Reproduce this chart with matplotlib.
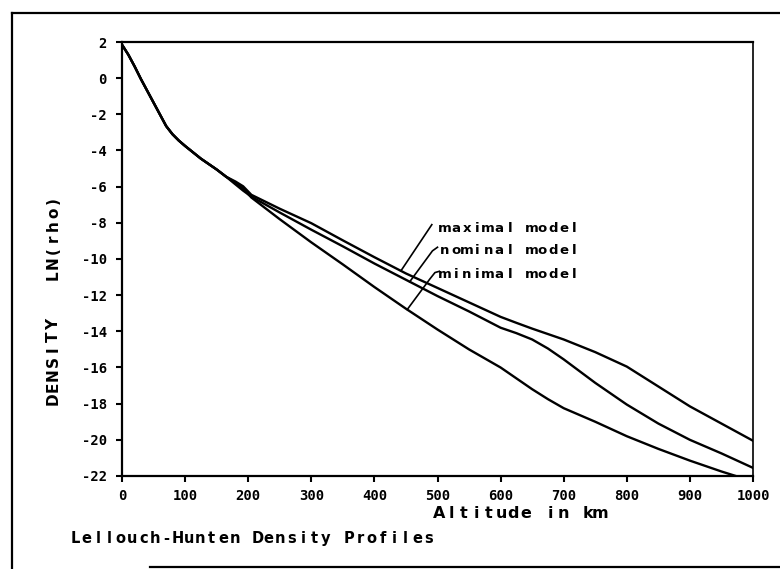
import matplotlib
matplotlib.use("Agg")
import matplotlib.pyplot as plt
from matplotlib.lines import Line2D
import numpy as np

plt.rcParams['axes.unicode_minus'] = False

W, H = 780, 569

# Lellouch-Hunten density profiles, ln(rho) against altitude (km)
alt_km = [0, 10, 20, 30, 40, 50, 60, 70, 80, 90, 100, 125, 150, 165,
          180, 192, 205, 250, 300, 350, 400, 450, 500, 550, 600, 625, 650,
          675, 700, 750, 800, 850, 900, 950, 1000]

maximal = [1.85, 1.3, 0.65, -0.05, -0.7, -1.35, -2.0, -2.65, -3.1, -3.45, -3.75, -4.45, -5.05, -5.45,
           -5.72, -5.98, -6.45, -7.22, -8.02, -8.97, -9.9, -10.8, -11.6, -12.4, -13.2, -13.53, -13.85,
           -14.15, -14.45, -15.15, -15.95, -17.05, -18.15, -19.1, -20.05]

nominal = [1.85, 1.3, 0.65, -0.05, -0.7, -1.35, -2.0, -2.65, -3.1, -3.45, -3.75, -4.45, -5.05, -5.45,
           -5.88, -6.22, -6.55, -7.43, -8.38, -9.3, -10.25, -11.15, -12.05, -12.9, -13.8, -14.1, -14.45,
           -14.95, -15.55, -16.85, -18.05, -19.1, -20.0, -20.75, -21.55]

minimal = [1.85, 1.3, 0.65, -0.05, -0.7, -1.35, -2.0, -2.65, -3.1, -3.45, -3.75, -4.45, -5.05, -5.45,
           -5.8, -6.1, -6.6, -7.8, -9.08, -10.3, -11.55, -12.75, -13.9, -15.0, -16.0, -16.6, -17.2,
           -17.75, -18.25, -19.0, -19.8, -20.5, -21.15, -21.75, -22.3]

x_ticks = list(range(0, 1001, 100))
y_ticks = list(range(-22, 3, 2))

MONO = 'DejaVu Sans Mono'
SANS = 'DejaVu Sans'

fig = plt.figure(figsize=(W / 100, H / 100), dpi=100)
fig.patch.set_facecolor('white')
ax = fig.add_axes([122 / W, 1 - 476 / H, (753 - 122) / W, (476 - 42) / H])

for series in (maximal, nominal, minimal):
    ax.plot(alt_km, series, color='black', lw=1.7, solid_joinstyle='round')

ax.set_xlim(0, 1000)
ax.set_ylim(-22, 2)
ax.set_xticks(x_ticks)
ax.set_yticks(y_ticks)
ax.tick_params(direction='out', length=4, width=1.5, labelsize=10, pad=7)
ax.tick_params(axis='x', pad=5)
for lab in ax.get_xticklabels() + ax.get_yticklabels():
    lab.set_family(MONO)
    lab.set_fontweight('bold')
for side in ax.spines:
    ax.spines[side].set_linewidth(1.6)
ax.spines['right'].set_linewidth(1.2)

# leader lines from each curve to its label
def leader(curve, x0, pts):
    y0 = np.interp(x0, alt_km, curve)
    xs = [x0] + [p[0] for p in pts]
    ys = [y0] + [p[1] for p in pts]
    ax.plot(xs, ys, color='black', lw=1.2, clip_on=False)

leader(maximal, 442, [(491, -8.1)])
leader(nominal, 456, [(492, -9.55), (500, -9.35)])
leader(minimal, 452, [(488, -11.1), (496, -10.75), (503, -10.68)])

# plotter-style lettering: one glyph at a time on a fixed pitch
def spaced(x, y, s, pitch, size, vertical=False):
    for i, ch in enumerate(s):
        if ch == ' ':
            continue
        if vertical:
            cx, cy, rot = x, y - i * pitch, 90
        else:
            cx, cy, rot = x + i * pitch, y, 0
        fig.text(cx / W, 1 - cy / H, ch, ha='center', va='baseline',
                 rotation=rot, rotation_mode='anchor',
                 fontsize=size, fontweight='bold', family=SANS)

spaced(445, 231.5, 'maximal model', 10.8, 9.5)
spaced(445, 254.5, 'nominal model', 10.8, 9.5)
spaced(445, 277.5, 'minimal model', 10.8, 9.5)

spaced(439, 518, 'Altitude in km', 12.4, 11.5)
spaced(75, 543, 'Lellouch-Hunten Density Profiles', 11.4, 10.5)
spaced(58, 399, 'DENSITY   LN(rho)', 12.4, 11, vertical=True)

# outer frame
def frame_line(xs, ys):
    fig.add_artist(Line2D([x / W for x in xs], [1 - y / H for y in ys],
                          color='black', lw=1.6, transform=fig.transFigure))

frame_line([12, 12], [13, 569])
frame_line([12, 780], [13, 13])
frame_line([150, 780], [567, 567])

plt.savefig('out.png', dpi=100, facecolor='white')
plt.close()
